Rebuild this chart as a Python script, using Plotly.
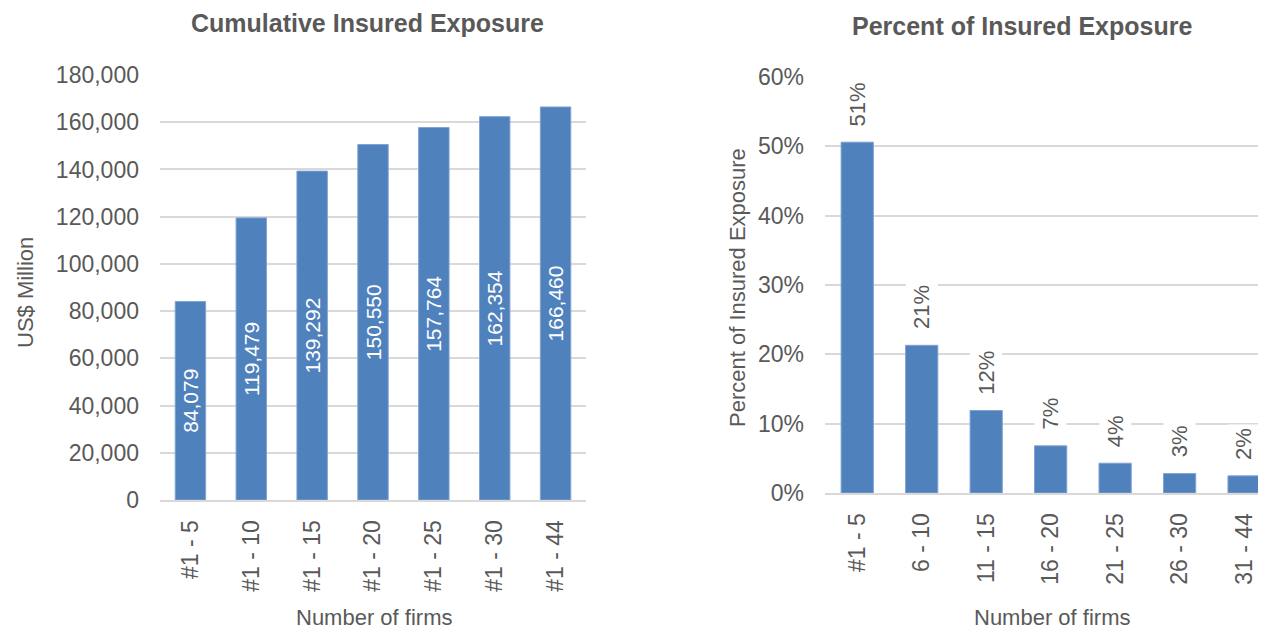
import plotly.graph_objects as go

cum_labels = ["#1 - 5", "#1 - 10", "#1 - 15", "#1 - 20", "#1 - 25", "#1 - 30", "#1 - 44"]
cum_values = [84079, 119479, 139292, 150550, 157764, 162354, 166460]

pct_labels = ["#1 - 5", "6 - 10", "11 - 15", "16 - 20", "21 - 25", "26 - 30", "31 - 44"]
pct_values = [0.506, 0.213, 0.119, 0.068, 0.043, 0.028, 0.0247]

BLUE = "#4F81BD"
GREY = "#595959"
GRID = "#D9D9D9"
FONT = "Liberation Sans, Arial, sans-serif"

# the page body has an 8px margin, so the figure is a bit smaller than the window
OFF = 8
W, H = 1266 - OFF, 631 - OFF


def px_x(x):
    return (x - OFF) / W


def px_y(y):
    return 1 - (y - OFF) / H


fig = go.Figure()

fig.add_trace(
    go.Bar(
        x=cum_labels,
        y=cum_values,
        marker=dict(color=BLUE, line=dict(color="#7FA3D3", width=1)),
        width=0.5,
        text=[f"{v:,}" for v in cum_values],
        textposition="inside",
        insidetextanchor="middle",
        textangle=-90,
        textfont=dict(color="white", size=21, family=FONT),
        xaxis="x",
        yaxis="y",
        hoverinfo="skip",
    )
)

fig.add_trace(
    go.Bar(
        x=pct_labels,
        y=pct_values,
        marker=dict(color=BLUE, line=dict(color="#7FA3D3", width=1)),
        width=0.5,
        xaxis="x2",
        yaxis="y2",
        hoverinfo="skip",
    )
)

# percent labels above the bars, white box breaks the gridlines like in Excel
annotations = []
for lab, v in zip(pct_labels, pct_values):
    annotations.append(
        dict(
            x=lab, y=v, xref="x2", yref="y2",
            text=f"{round(v * 100)}%",
            showarrow=False, textangle=-90,
            xanchor="center", yanchor="bottom", yshift=12,
            bgcolor="white", borderpad=3,
            font=dict(size=22, color=GREY, family=FONT),
        )
    )


def paper_text(x, y, text, size, angle=0):
    return dict(
        x=px_x(x), y=px_y(y), xref="paper", yref="paper", text=text,
        xanchor="center", yanchor="middle", showarrow=False, textangle=angle,
        font=dict(size=size, color=GREY, family=FONT),
    )


annotations += [
    paper_text(367, 23, "<b>Cumulative Insured Exposure</b>", 25),
    paper_text(1022, 26, "<b>Percent of Insured Exposure</b>", 25),
    paper_text(374, 617, "Number of firms", 22),
    paper_text(1052, 617, "Number of firms", 22),
    paper_text(25, 293, "US$ Million", 22, -90),
    paper_text(737, 287, "Percent of Insured Exposure", 22, -90),
]

tick_font = dict(size=23, color=GREY, family=FONT)

fig.update_layout(
    width=W,
    height=H,
    margin=dict(l=0, r=0, t=0, b=0, autoexpand=False),
    paper_bgcolor="white",
    plot_bgcolor="white",
    showlegend=False,
    annotations=annotations,
    xaxis=dict(
        tickfont=tick_font,
        domain=[px_x(160), px_x(586)],
        tickangle=-90,
        ticklabelstandoff=9,
        showgrid=False, ticks="",
        showline=True, linecolor=GRID, linewidth=2,
        range=[-0.5, 6.5],
        automargin=False,
        anchor="y",
    ),
    yaxis=dict(
        tickfont=tick_font,
        domain=[px_y(500), px_y(75)],
        range=[0, 180000],
        dtick=20000,
        tickformat=",d",
        ticklabelstandoff=20,
        showgrid=True, gridcolor=GRID, gridwidth=2,
        zeroline=False, ticks="",
        automargin=False,
        anchor="x",
    ),
    xaxis2=dict(
        tickfont=tick_font,
        domain=[px_x(825), 1.0],
        tickangle=-90,
        ticklabelstandoff=9,
        showgrid=False, ticks="",
        showline=True, linecolor=GRID, linewidth=2,
        range=[-0.5, 6.34],
        automargin=False,
        anchor="y2",
    ),
    yaxis2=dict(
        tickfont=tick_font,
        domain=[px_y(493), px_y(77)],
        range=[0, 0.6],
        dtick=0.1,
        tickformat=".0%",
        ticklabelstandoff=20,
        showgrid=True, gridcolor=GRID, gridwidth=2,
        zeroline=False, ticks="",
        automargin=False,
        anchor="x2",
    ),
)

fig.write_html("out.html")
